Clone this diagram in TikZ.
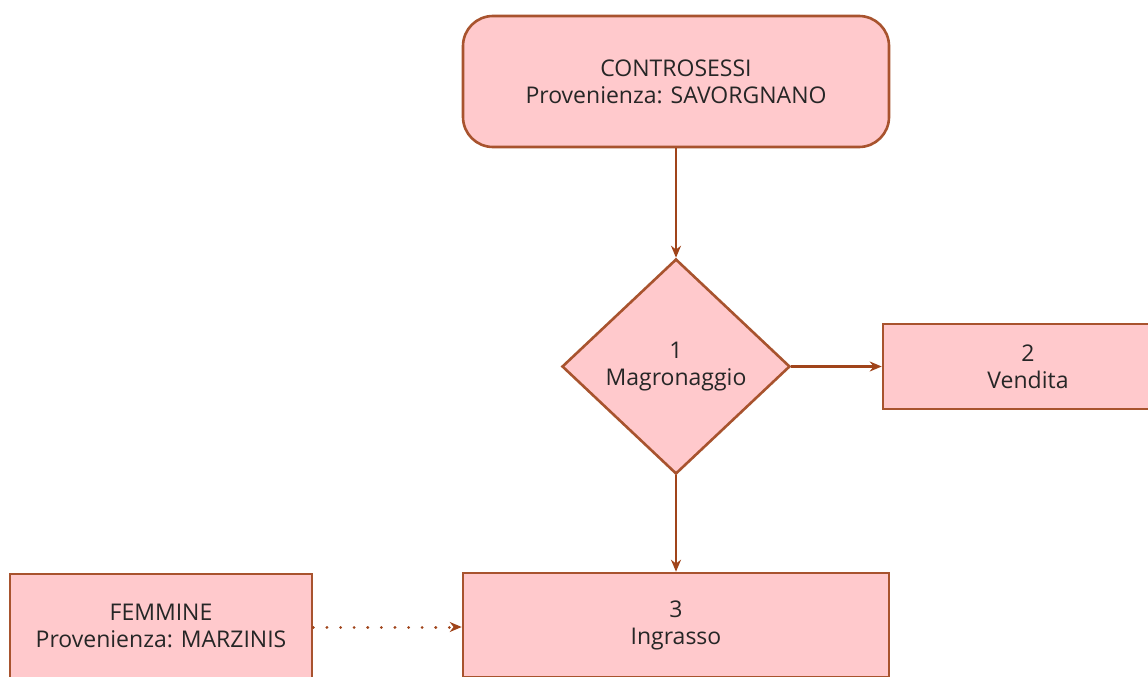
\documentclass[tikz,border=0pt]{standalone}
\usepackage{fontspec}
\setmainfont{Open Sans}
\usetikzlibrary{shapes.geometric,arrows.meta}
\definecolor{boxfill}{HTML}{FFC9CC}
\definecolor{boxline}{HTML}{A8532E}
\definecolor{arrowc}{HTML}{A0441A}
\tikzset{
  x=1pt,y=-1pt,
  every node/.style={font=\fontsize{23}{27}\selectfont, text=black!85, align=center},
  box/.style={draw=boxline, fill=boxfill, line width=2.6pt, inner sep=0pt},
  conn/.style={draw=arrowc, line width=2.2pt, -{Stealth[length=12pt,width=10pt]}},
  dotconn/.style={conn, line width=3pt, line cap=round, dash pattern=on 0.1pt off 13.5pt}
}
\begin{document}
\begin{tikzpicture}
\useasboundingbox (0,0) rectangle (1148,677);
\clip (0,0) rectangle (1148,677);
\fill[white] (0,0) rectangle (1148,677);
\node[box, rounded corners=30pt, minimum width=426pt, minimum height=131pt] (top) at (676,81.5) {CONTROSESSI\\Provenienza: SAVORGNANO};
\node[box, diamond, minimum width=228pt, minimum height=215pt, aspect=1.06] (magr) at (676,366.5) {1\\Magronaggio};
\node[box, minimum width=290pt, minimum height=85pt] (vend) at (1028,366.5) {2\\Vendita};
\node[box, minimum width=426pt, minimum height=104pt] (ingr) at (676,625) {3\\Ingrasso};
\node[box, minimum width=302pt, minimum height=104pt] (femm) at (161,626) {FEMMINE\\Provenienza: MARZINIS};
\draw[conn] (top.south) -- (magr.north);
\draw[conn] (magr.east) -- (vend.west);
\draw[conn] (magr.south) -- (ingr.north);
\draw[dotconn] (femm.east |- 0,627) -- (ingr.west |- 0,627);
\end{tikzpicture}
\end{document}
